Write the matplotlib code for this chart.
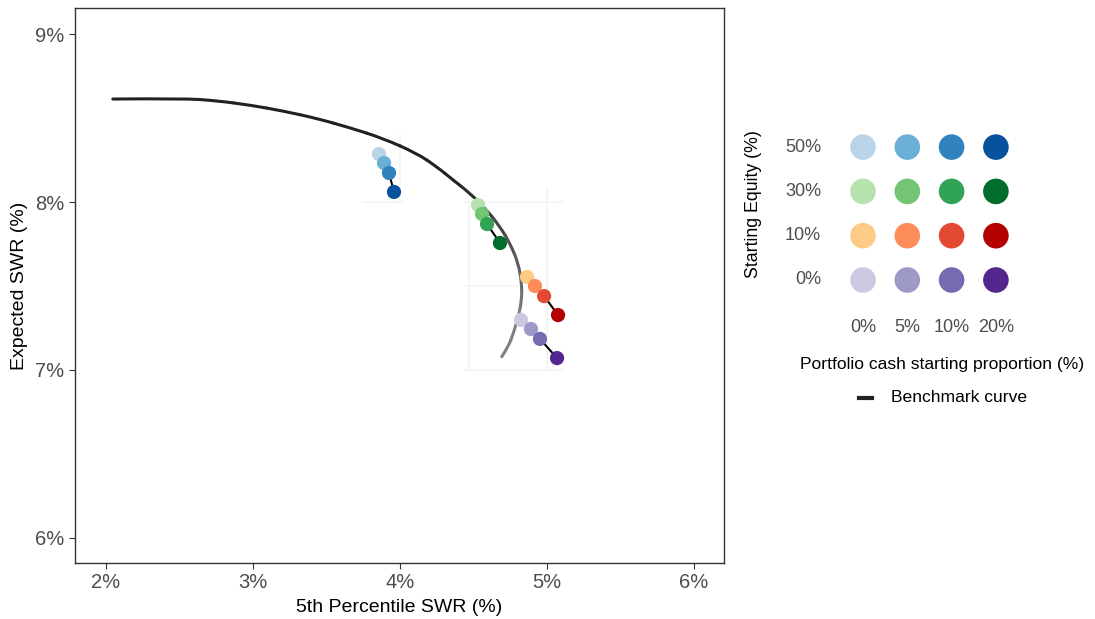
import numpy as np
import matplotlib; matplotlib.use("Agg"); import matplotlib.pyplot as plt
from matplotlib.path import Path
from matplotlib.patches import PathPatch
from matplotlib.ticker import FuncFormatter

plt.rcParams["font.family"] = ["Liberation Sans", "DejaVu Sans"]

# benchmark curve (5th pct SWR, expected SWR)
curve_x = [2.046, 2.524, 2.753, 2.980, 3.204, 3.433, 3.660, 3.884, 4.114, 4.250, 4.361,
           4.476, 4.590, 4.680, 4.748, 4.805, 4.828, 4.828, 4.805, 4.771, 4.737, 4.692]
curve_y = [8.613, 8.617, 8.603, 8.577, 8.542, 8.498, 8.442, 8.379, 8.290, 8.210, 8.131,
           8.052, 7.952, 7.853, 7.754, 7.635, 7.516, 7.417, 7.317, 7.218, 7.139, 7.079]

equity_labels = ["50%", "30%", "10%", "0%"]
cash_labels = ["0%", "5%", "10%", "20%"]

# per starting equity: points for cash 0/5/10/20%
swr5 = {"50%": [3.857, 3.891, 3.925, 3.959],
        "30%": [4.531, 4.558, 4.592, 4.680],
        "10%": [4.864, 4.918, 4.980, 5.075],
        "0%":  [4.823, 4.891, 4.952, 5.068]}
swr_exp = {"50%": [8.286, 8.232, 8.173, 8.060],
           "30%": [7.982, 7.929, 7.869, 7.756],
           "10%": [7.554, 7.500, 7.440, 7.327],
           "0%":  [7.298, 7.244, 7.185, 7.071]}

colors = {"50%": ["#b9d4e8", "#6baed6", "#3182bd", "#08519c"],
          "30%": ["#b5e2ad", "#74c476", "#31a354", "#006d2c"],
          "10%": ["#fdcb86", "#fc8d59", "#e34a33", "#b30000"],
          "0%":  ["#cbc9e2", "#9e9ac8", "#756bb1", "#54278f"]}

W, H = 1095, 619
fig = plt.figure(figsize=(W / 100, H / 100), dpi=100)
ax = fig.add_axes([75 / W, 1 - 563 / H, (724 - 75) / W, (563 - 8) / H])

# faint leftover grid pieces around the point clusters
faint = dict(color="#f3f3f3", lw=1.2, zorder=1)
ax.plot([5.0, 5.0], [7.0, 8.08], **faint)
ax.plot([4.47, 4.47], [7.0, 7.98], **faint)
ax.plot([4.44, 5.1], [8.0, 8.0], **faint)
ax.plot([4.44, 4.8], [7.5, 7.5], **faint)
ax.plot([4.44, 5.1], [7.0, 7.0], **faint)
ax.plot([4.0, 4.0], [8.0, 8.4], **faint)
ax.plot([3.75, 4.02], [8.0, 8.0], **faint)

# smooth benchmark curve: quadratic bezier pieces, dark fading to grey
p = np.column_stack([curve_x, curve_y])
mid = (p[:-1] + p[1:]) / 2
n = len(p)
for i in range(1, n - 1):
    a = p[0] if i == 1 else mid[i - 1]
    b = p[-1] if i == n - 2 else mid[i]
    s = np.clip((i / (n - 2) - 0.5) / 0.4, 0, 1)
    g = 0.13 + 0.37 * s
    path = Path([a, p[i], b], [Path.MOVETO, Path.CURVE3, Path.CURVE3])
    ax.add_patch(PathPatch(path, fill=False, edgecolor=(g, g, g), lw=2.2,
                           capstyle="round", zorder=2))

for eq in equity_labels:
    ax.plot(swr5[eq], swr_exp[eq], color="black", lw=1.5, zorder=3)
    ax.scatter(swr5[eq], swr_exp[eq], c=colors[eq], s=105, zorder=4, linewidths=0)

ax.set_xlim(1.789, 6.204)
ax.set_ylim(5.851, 9.155)
ax.set_xticks([2, 3, 4, 5, 6])
ax.set_yticks([6, 7, 8, 9])
pct = FuncFormatter(lambda v, p: f"{v:.0f}%")
ax.xaxis.set_major_formatter(pct)
ax.yaxis.set_major_formatter(pct)
ax.tick_params(labelsize=14.5, colors="#333333", labelcolor="#4d4d4d", length=4)
for s in ax.spines.values():
    s.set_color("#333333")
    s.set_linewidth(1.0)
ax.set_xlabel("5th Percentile SWR (%)", fontsize=14, labelpad=5)
ax.set_ylabel("Expected SWR (%)", fontsize=14, labelpad=5)

# legend grid
sp = 44.3
lg = fig.add_axes([(863 - sp / 2) / W, 1 - (280 + sp / 2) / H, 4 * sp / W, 4 * sp / H])
for r, eq in enumerate(equity_labels):
    lg.scatter(range(4), [3 - r] * 4, c=colors[eq], s=340, linewidths=0)
lg.set_xlim(-0.5, 3.5)
lg.set_ylim(-0.5, 3.5)
lg.axis("off")

for r, eq in enumerate(equity_labels):
    fig.text(821 / W, 1 - (147 + r * sp) / H, eq, ha="right", va="center",
             fontsize=13, color="#4d4d4d")
for c, lab in enumerate(cash_labels):
    fig.text((863 + c * sp) / W, 1 - 328 / H, lab, ha="center", va="center",
             fontsize=13, color="#4d4d4d")
fig.text(753 / W, 1 - 204 / H, "Starting Equity (%)", rotation=90, ha="center",
         va="center", fontsize=12.8)
fig.text(942 / W, 1 - 365 / H, "Portfolio cash starting proportion (%)", ha="center",
         va="center", fontsize=12.6)
fig.add_artist(plt.Line2D([859 / W, 872 / W], [1 - 398 / H] * 2, color="#222222", lw=3))
fig.text(891 / W, 1 - 397 / H, "Benchmark curve", ha="left", va="center", fontsize=12.6)

fig.savefig("out.png", dpi=100)
